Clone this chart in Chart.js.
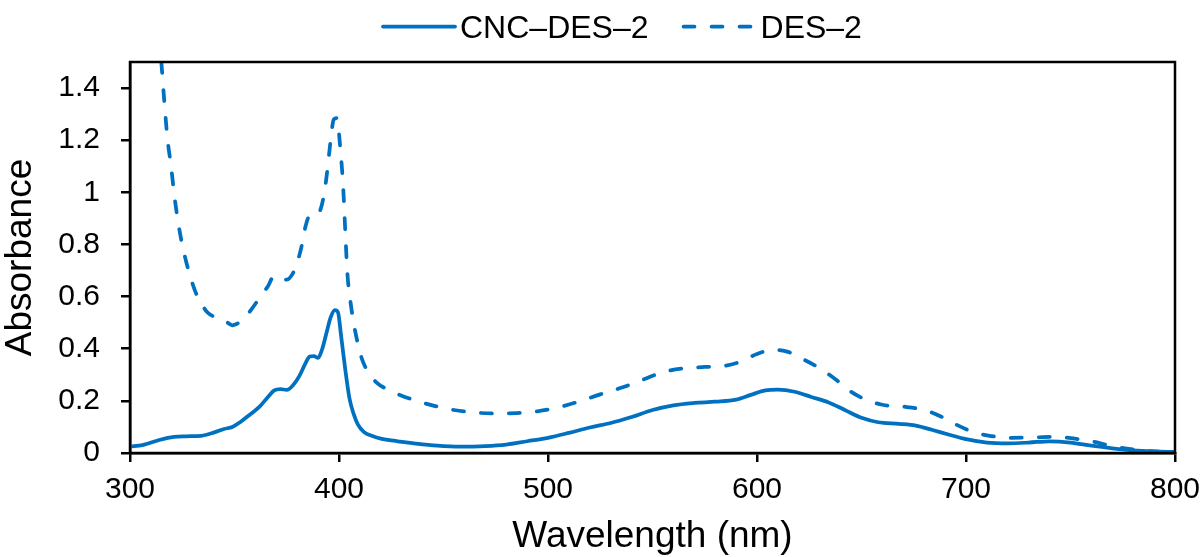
<!DOCTYPE html>
<html>
<head>
<meta charset="utf-8">
<title>Absorbance spectra</title>
<script src="https://cdn.jsdelivr.net/npm/chart.js@4/dist/chart.umd.min.js"></script>
<style>
  html, body { margin: 0; padding: 0; background: #fff; }
  canvas { display: block; }
</style>
</head>
<body>
<canvas id="spectra" width="1203" height="557"></canvas>
<script>
// UV-Vis spectra: wavelength (nm) vs absorbance
const seriesNames = ['CNC–DES–2', 'DES–2'];

const wavelengthCNC = [300, 306, 314, 321, 327, 334, 340, 345, 349, 353, 357, 362, 366, 369, 372, 375, 378, 381, 384, 386, 388, 390, 392, 394, 396, 398, 399.5, 401, 403, 405, 407, 409, 412, 416, 420, 428, 435, 447, 458, 470, 480, 490, 500, 510, 520, 530, 540, 550, 560, 570, 580, 590, 597, 604, 610, 618, 626, 634, 642, 650, 658, 668, 676, 684, 692, 700, 710, 720, 730, 740, 750, 760, 770, 780, 790, 800];
const absorbanceCNC = [0.025, 0.03, 0.05, 0.062, 0.064, 0.066, 0.078, 0.092, 0.10, 0.12, 0.145, 0.178, 0.215, 0.24, 0.245, 0.242, 0.26, 0.295, 0.345, 0.37, 0.372, 0.365, 0.40, 0.46, 0.52, 0.548, 0.54, 0.45, 0.32, 0.21, 0.15, 0.11, 0.08, 0.065, 0.055, 0.045, 0.038, 0.028, 0.024, 0.026, 0.032, 0.045, 0.058, 0.077, 0.098, 0.115, 0.138, 0.165, 0.183, 0.192, 0.197, 0.205, 0.223, 0.24, 0.243, 0.235, 0.215, 0.195, 0.165, 0.135, 0.118, 0.112, 0.105, 0.088, 0.07, 0.053, 0.04, 0.037, 0.04, 0.045, 0.04, 0.028, 0.018, 0.01, 0.006, 0.004];

const wavelengthDES = [315, 316.5, 318, 319.5, 321.5, 324, 327, 331, 334, 337, 341, 345, 349, 351, 354, 358, 362, 366, 369, 372, 375, 378, 380, 382, 384, 386, 389, 391, 393, 394.5, 396, 397.5, 399, 400.5, 402, 403, 404, 405.5, 407, 409, 411, 414, 418, 423, 430, 438, 446, 455, 465, 475, 485, 495, 505, 515, 525, 535, 545, 555, 565, 575, 585, 592, 600, 607, 614, 622, 630, 638, 645, 652, 660, 670, 680, 688, 695, 703, 712, 722, 733, 743, 752, 760, 768, 776, 784, 792, 800];
const absorbanceDES = [1.50, 1.34, 1.20, 1.11, 0.97, 0.84, 0.73, 0.625, 0.575, 0.54, 0.52, 0.51, 0.49, 0.495, 0.51, 0.55, 0.595, 0.64, 0.68, 0.67, 0.665, 0.69, 0.73, 0.79, 0.87, 0.91, 0.91, 0.93, 1.0, 1.09, 1.2, 1.28, 1.285, 1.18, 1.02, 0.85, 0.69, 0.58, 0.50, 0.42, 0.36, 0.31, 0.27, 0.245, 0.22, 0.198, 0.18, 0.165, 0.155, 0.152, 0.153, 0.16, 0.175, 0.198, 0.225, 0.25, 0.28, 0.31, 0.325, 0.33, 0.335, 0.35, 0.38, 0.395, 0.39, 0.36, 0.325, 0.28, 0.235, 0.205, 0.185, 0.178, 0.165, 0.14, 0.11, 0.082, 0.065, 0.058, 0.06, 0.062, 0.055, 0.045, 0.03, 0.018, 0.01, 0.005, 0.003];

const xTickStep = 100;
const yTickStep = 0.2;

const toPoints = (xs, ys) => xs.map((x, i) => ({ x, y: ys[i] }));

const BLUE = '#0070C0';
const FONT = "'Liberation Sans', Arial, sans-serif";

// Key drawn above the plot: a line sample followed by the series name
const seriesKey = {
  id: 'seriesKey',
  afterDraw(chart, args, opts) {
    const ctx = chart.ctx;
    ctx.save();
    ctx.font = opts.fontSize + 'px ' + FONT;
    ctx.textBaseline = 'alphabetic';
    ctx.fillStyle = '#000';
    let x = opts.left;
    chart.data.datasets.forEach((ds) => {
      ctx.save();
      ctx.strokeStyle = ds.borderColor;
      ctx.lineWidth = ds.borderWidth;
      ctx.lineCap = ds.borderCapStyle || 'butt';
      ctx.setLineDash(ds.borderDash || []);
      ctx.beginPath();
      ctx.moveTo(x, opts.lineY);
      ctx.lineTo(x + opts.sampleWidth, opts.lineY);
      ctx.stroke();
      ctx.restore();
      x += opts.sampleWidth + opts.textGap;
      ctx.fillText(ds.label, x, opts.textY);
      x += ctx.measureText(ds.label).width + opts.itemGap;
    });
    ctx.restore();
  }
};

// Closed box around the plotting area
const plotFrame = {
  id: 'plotFrame',
  afterDraw(chart) {
    const { ctx, chartArea: a } = chart;
    ctx.save();
    ctx.strokeStyle = '#000';
    ctx.lineWidth = 2.5;
    ctx.strokeRect(a.left, a.top, a.right - a.left, a.bottom - a.top);
    ctx.restore();
  }
};

const axisLine = { display: true, color: '#000', width: 2.5 };
const tickMarks = { display: true, drawOnChartArea: false, drawTicks: true, tickLength: 9, color: '#000', lineWidth: 2.5 };

new Chart(document.getElementById('spectra'), {
  type: 'line',
  data: {
    datasets: [
      {
        label: seriesNames[0],
        data: toPoints(wavelengthCNC, absorbanceCNC),
        borderColor: BLUE,
        borderWidth: 3.75,
        borderCapStyle: 'round',
        borderJoinStyle: 'round',
        pointRadius: 0,
        cubicInterpolationMode: 'monotone',
        fill: false
      },
      {
        label: seriesNames[1],
        data: toPoints(wavelengthDES, absorbanceDES),
        borderColor: BLUE,
        borderWidth: 3.75,
        borderDash: [11, 17],
        borderCapStyle: 'round',
        borderJoinStyle: 'round',
        pointRadius: 0,
        cubicInterpolationMode: 'monotone',
        fill: false
      }
    ]
  },
  options: {
    responsive: false,
    animation: false,
    events: [],
    layout: { padding: { top: 62, right: 28, left: 0, bottom: 0 } },
    plugins: {
      legend: { display: false },
      tooltip: { enabled: false },
      seriesKey: { left: 383, sampleWidth: 72, textGap: 5, itemGap: 35, lineY: 26.5, textY: 38, fontSize: 32 }
    },
    scales: {
      x: {
        type: 'linear',
        min: 300,
        max: 800,
        ticks: { stepSize: xTickStep, color: '#000', padding: 10, font: { family: FONT, size: 30 } },
        grid: tickMarks,
        border: axisLine,
        title: { display: true, text: 'Wavelength (nm)', color: '#000', padding: 0, font: { family: FONT, size: 37, lineHeight: 1.1 } },
        afterFit(scale) {
          scale.height = 104;
          scale.paddingLeft = 0;
          scale.paddingRight = 0;
        }
      },
      y: {
        type: 'linear',
        min: 0,
        max: 1.5,
        ticks: {
          stepSize: yTickStep,
          includeBounds: false,
          color: '#000',
          padding: 21,
          font: { family: FONT, size: 30 },
          callback: v => String(Number(v.toFixed(2)))
        },
        grid: tickMarks,
        border: axisLine,
        title: { display: true, text: 'Absorbance', color: '#000', padding: 0, font: { family: FONT, size: 37, lineHeight: 1.1 } },
        afterFit(scale) {
          scale.width = 130;
          scale.paddingTop = 0;
          scale.paddingBottom = 0;
        }
      }
    }
  },
  plugins: [seriesKey, plotFrame]
});
</script>
</body>
</html>
